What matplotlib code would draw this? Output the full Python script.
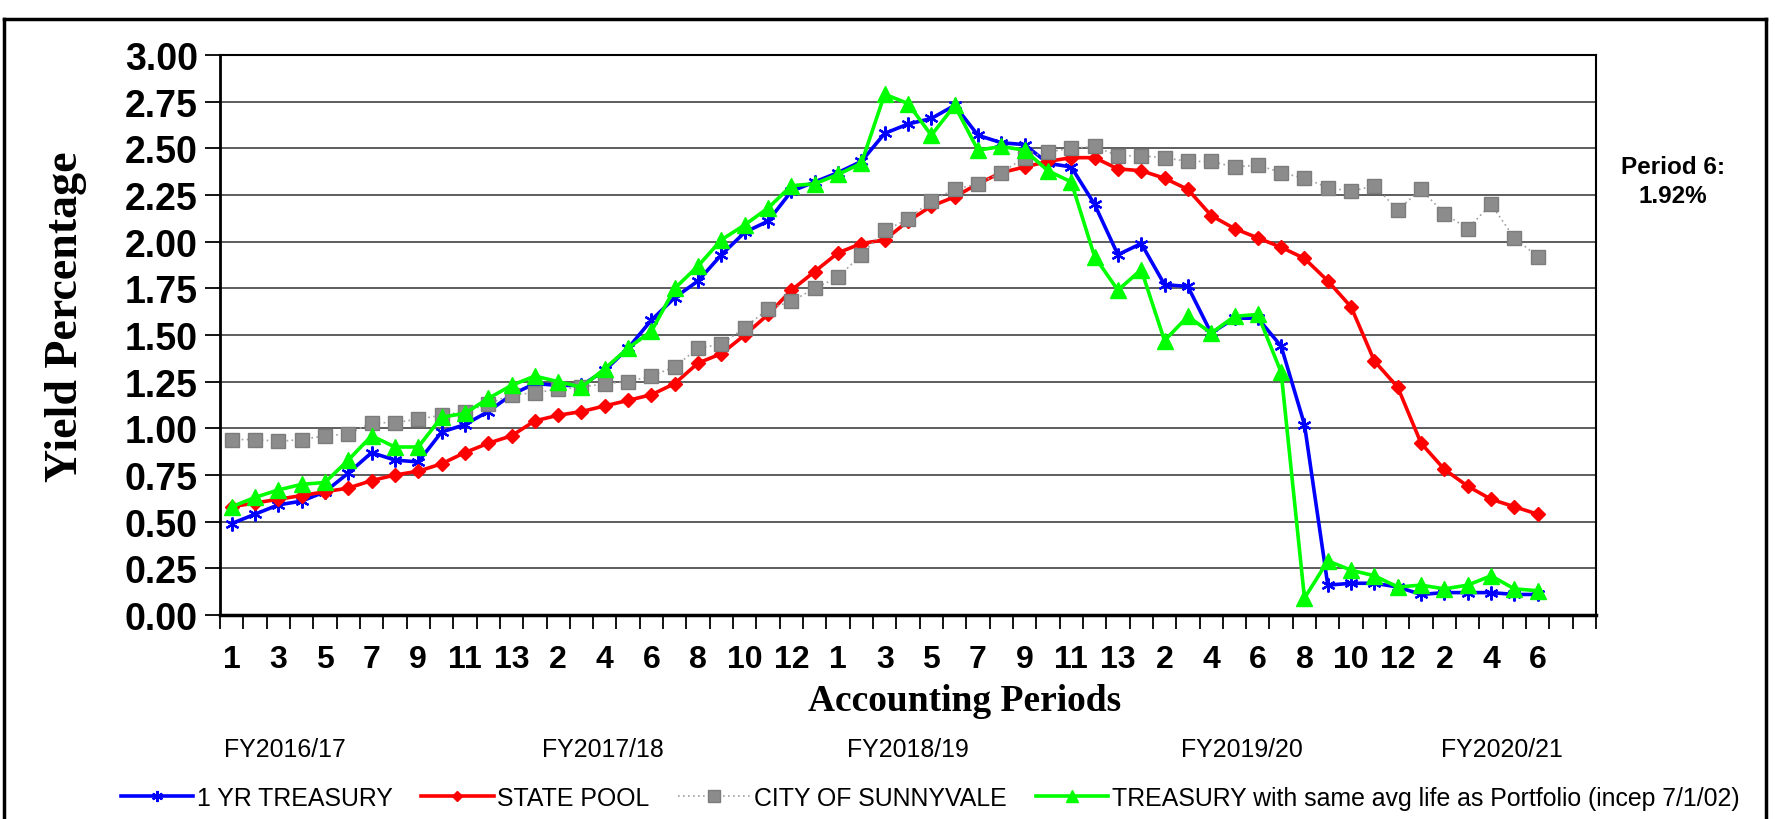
import matplotlib
matplotlib.use("Agg")
import matplotlib.pyplot as plt
import numpy as np
from matplotlib import font_manager
from matplotlib.lines import Line2D

# accounting periods: 3 full years of 13, then 12, then 6 so far
periods = list(range(1, 14)) * 3 + list(range(1, 13)) + list(range(1, 7))
fy_labels = ["FY2016/17", "FY2017/18", "FY2018/19", "FY2019/20", "FY2020/21"]
fy_xpos = [285, 603, 908, 1242, 1502]  # pixel centres of the year captions

treasury_1yr = [0.49, 0.54, 0.59, 0.61, 0.66, 0.76, 0.87, 0.83, 0.82, 0.98, 1.02, 1.09, 1.18, 1.24, 1.23,
                1.23, 1.31, 1.43, 1.58, 1.70, 1.79, 1.93, 2.05, 2.11, 2.27, 2.32, 2.37, 2.43, 2.58, 2.63,
                2.66, 2.73, 2.57, 2.53, 2.52, 2.42, 2.40, 2.20, 1.93, 1.99, 1.77, 1.76, 1.51, 1.59,
                1.59, 1.44, 1.02, 0.16, 0.17, 0.17, 0.15, 0.11, 0.12, 0.12, 0.12, 0.11, 0.11]
state_pool = [0.58, 0.60, 0.62, 0.64, 0.66, 0.68, 0.72, 0.75, 0.77, 0.81, 0.87, 0.92, 0.96, 1.04, 1.07,
              1.09, 1.12, 1.15, 1.18, 1.24, 1.35, 1.40, 1.50, 1.61, 1.74, 1.84, 1.94, 1.99, 2.01, 2.11,
              2.19, 2.24, 2.31, 2.37, 2.40, 2.43, 2.45, 2.45, 2.39, 2.38, 2.34, 2.28, 2.14, 2.07,
              2.02, 1.97, 1.91, 1.79, 1.65, 1.36, 1.22, 0.92, 0.78, 0.69, 0.62, 0.58, 0.54]
city = [0.94, 0.94, 0.93, 0.94, 0.96, 0.97, 1.03, 1.03, 1.05, 1.07, 1.09, 1.13, 1.18, 1.19, 1.21,
        1.22, 1.24, 1.25, 1.28, 1.33, 1.43, 1.45, 1.54, 1.64, 1.68, 1.75, 1.81, 1.93, 2.06, 2.12,
        2.22, 2.28, 2.31, 2.37, 2.45, 2.48, 2.50, 2.51, 2.46, 2.46, 2.45, 2.43, 2.43, 2.40,
        2.41, 2.37, 2.34, 2.29, 2.27, 2.30, 2.17, 2.28, 2.15, 2.07, 2.20, 2.02, 1.92]
treasury_avg_life = [0.58, 0.63, 0.67, 0.70, 0.71, 0.83, 0.96, 0.90, 0.90, 1.06, 1.08, 1.16, 1.23, 1.28, 1.25,
                     1.22, 1.32, 1.43, 1.52, 1.75, 1.87, 2.01, 2.09, 2.18, 2.30, 2.31, 2.36, 2.42, 2.79, 2.74,
                     2.57, 2.73, 2.49, 2.51, 2.49, 2.38, 2.32, 1.92, 1.74, 1.85, 1.47, 1.60, 1.51, 1.60,
                     1.61, 1.30, 0.09, 0.29, 0.24, 0.21, 0.15, 0.16, 0.14, 0.16, 0.21, 0.14, 0.13]

names = {f.name for f in font_manager.fontManager.ttflist}
if "Liberation Sans Narrow" in names:
    narrow, nscale = "Liberation Sans Narrow", 1.0
else:
    narrow, nscale = "Liberation Sans", 0.92
sans = "Liberation Sans"
serif = "Liberation Serif"

W, H = 1775, 820
fig = plt.figure(figsize=(W / 100, H / 100), dpi=100)
ax = fig.add_axes([220 / W, 1 - 616 / H, (1596 - 220) / W, (616 - 56) / H])

x = np.arange(len(periods))
ax.plot(x, treasury_1yr, color="#0000ff", lw=2.6, marker=(6, 2, 0), ms=10, mew=1.6,
        label="1 YR TREASURY", zorder=3)
ax.plot(x, state_pool, color="#ff0000", lw=2.6, marker="D", ms=7,
        label="STATE POOL", zorder=3)
ax.plot(x, city, color="#a0a0a0", lw=1.2, ls=(0, (1, 2)), marker="s", ms=10,
        mfc="#8c8c8c", mec="#7c7c7c", mew=1.0, label="CITY OF SUNNYVALE", zorder=4)
ax.plot(x, treasury_avg_life, color="#00ff00", lw=2.6, marker="^", ms=11,
        label="TREASURY with same avg life as Portfolio (incep 7/1/02)", zorder=5)

ax.set_xlim(-0.5, 58.5)
ax.set_ylim(0, 3)
ax.set_yticks(np.arange(0, 3.01, 0.25))
ax.set_yticklabels([f"{v:.2f}" for v in np.arange(0, 3.01, 0.25)],
                   fontfamily=sans, fontweight="bold", fontsize=27)
ax.tick_params(axis="y", direction="out", length=11, width=1.3, pad=5)

ax.set_xticks(x[::2])
ax.set_xticklabels([str(p) for p in periods[::2]], fontfamily=narrow,
                   fontweight="bold", fontsize=25 * nscale)
ax.set_xticks(np.arange(-0.5, 59, 1), minor=True)
ax.tick_params(axis="x", which="major", length=0, pad=21)
ax.tick_params(axis="x", which="minor", direction="out", length=10, width=1.3)

ax.yaxis.grid(True, color="#505050", lw=1.3)
ax.set_axisbelow(True)
for s in ax.spines.values():
    s.set_color("black")
    s.set_linewidth(1.5)
ax.spines["bottom"].set_linewidth(2.5)
ax.spines["left"].set_linewidth(2.0)

fig.text(66 / W, 1 - 317 / H, "Yield Percentage", rotation=90, ha="center", va="center",
         fontfamily=serif, fontweight="bold", fontsize=33)
fig.text(965 / W, 1 - 702 / H, "Accounting Periods", ha="center", va="center",
         fontfamily=serif, fontweight="bold", fontsize=27)
for lab, px in zip(fy_labels, fy_xpos):
    fig.text(px / W, 1 - 750 / H, lab, ha="center", va="center",
             fontfamily=narrow, fontsize=19.5 * nscale)
fig.text(1673 / W, 1 - 182 / H, "Period 6:\n1.92%", ha="center", va="center",
         fontfamily=sans, fontweight="bold", fontsize=17.5, linespacing=1.3)

leg = fig.legend(loc="center", bbox_to_anchor=(930 / W, 1 - 799 / H), ncol=4, frameon=False,
                 handlelength=2.9, handletextpad=0.15, columnspacing=1.15,
                 prop={"family": narrow, "size": 19.5 * nscale}, markerscale=0.8)

# outer frame round the whole chart
frame_kw = dict(color="black", lw=2.5, transform=fig.transFigure)
fig.add_artist(Line2D([4 / W, 4 / W], [0, 1 - 20 / H], **frame_kw))
fig.add_artist(Line2D([4 / W, 1766 / W], [1 - 20 / H, 1 - 20 / H], **frame_kw))
fig.add_artist(Line2D([1766 / W, 1766 / W], [0, 1 - 20 / H], **frame_kw))

fig.savefig("out.png", dpi=100)
